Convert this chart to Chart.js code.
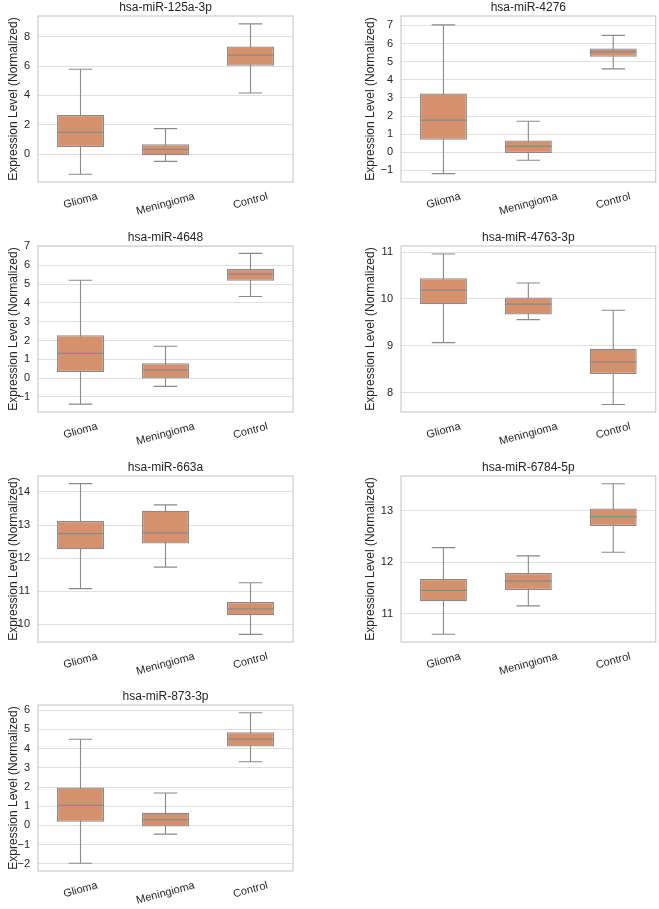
<!DOCTYPE html>
<html><head><meta charset="utf-8">
<script src="https://cdn.jsdelivr.net/npm/chart.js@4/dist/chart.umd.min.js"></script>
<style>
html,body{margin:0;padding:0;background:#fff;overflow:hidden;width:659px;height:909px;position:relative;}
canvas{position:absolute;display:block;}
</style></head><body>
<script>
const genes = ['hsa-miR-125a-3p','hsa-miR-4276','hsa-miR-4648','hsa-miR-4763-3p','hsa-miR-663a','hsa-miR-6784-5p','hsa-miR-873-3p'];
const groups = ['Glioma','Meningioma','Control'];
const whiskerLow  = [[-1.38,-0.50,4.16],[-1.18,-0.44,4.60],[-1.38,-0.44,4.34],[9.07,9.56,7.75],[11.08,11.73,9.70],[10.60,11.15,12.19],[-1.97,-0.45,3.32]];
const q1          = [[0.48,-0.09,6.02],[0.69,-0.04,5.27],[0.32,-0.02,5.18],[9.89,9.67,8.40],[12.27,12.44,10.28],[11.24,11.46,12.70],[0.19,-0.05,4.11]];
const medians     = [[1.48,0.32,6.75],[1.78,0.33,5.54],[1.32,0.44,5.53],[10.19,9.89,8.66],[12.74,12.76,10.47],[11.45,11.63,12.88],[1.04,0.31,4.49]];
const q3          = [[2.66,0.66,7.34],[3.24,0.65,5.72],[2.28,0.79,5.80],[10.44,10.03,8.94],[13.12,13.43,10.68],[11.67,11.79,13.04],[1.98,0.66,4.85]];
const whiskerHigh = [[5.79,1.73,8.88],[7.03,1.71,6.45],[5.20,1.69,6.63],[10.96,10.34,9.76],[14.25,13.61,11.26],[12.28,12.12,13.52],[4.49,1.69,5.87]];
const yMin = [-1.91,-1.64,-1.80,7.59,9.47,10.45,-2.37];
const yMax = [9.42,7.52,7.02,11.13,14.48,13.67,6.27];
const yTicks = [[0,2,4,6,8],[-1,0,1,2,3,4,5,6,7],[-1,0,1,2,3,4,5,6,7],[8,9,10,11],[10,11,12,13,14],[11,12,13],[-2,-1,0,1,2,3,4,5,6]];
const yTitle = 'Expression Level (Normalized)';

const FONT = '"Liberation Sans", Arial, sans-serif';
const TEXT = '#262626';
const BOX = 'rgb(213,145,110)';
const LINE = '#8a8a8a';

const rowTops = [0,230,460,689];
const cols = [
  {x:0, w:330, yW:38, padR:37, tp:6.3},
  {x:330, w:329, yW:71, padR:3.3, tp:33.8}
];

function boxPlugin(k){
  return {
    id:'box'+k,
    beforeDatasetsDraw(chart){
      const ctx = chart.ctx, xs = chart.scales.x, ys = chart.scales.y;
      const meta = chart.getDatasetMeta(0);
      ctx.save();
      ctx.strokeStyle = LINE; ctx.lineWidth = 1.1;
      for(let i=0;i<groups.length;i++){
        const x = xs.getPixelForValue(i);
        const bw = meta.data[i].width;
        const cap = bw/4;
        const yl = ys.getPixelForValue(whiskerLow[k][i]);
        const yh = ys.getPixelForValue(whiskerHigh[k][i]);
        ctx.beginPath();
        ctx.moveTo(x,yl); ctx.lineTo(x,yh);
        ctx.moveTo(x-cap,yl); ctx.lineTo(x+cap,yl);
        ctx.moveTo(x-cap,yh); ctx.lineTo(x+cap,yh);
        ctx.stroke();
      }
      ctx.restore();
    },
    afterDatasetsDraw(chart){
      const ctx = chart.ctx, xs = chart.scales.x, ys = chart.scales.y;
      const meta = chart.getDatasetMeta(0);
      ctx.save();
      ctx.strokeStyle = LINE; ctx.lineWidth = 1.25;
      for(let i=0;i<groups.length;i++){
        const x = xs.getPixelForValue(i);
        const bw = meta.data[i].width;
        const ym = ys.getPixelForValue(medians[k][i]);
        ctx.beginPath();
        ctx.moveTo(x-bw/2,ym); ctx.lineTo(x+bw/2,ym);
        ctx.stroke();
      }
      ctx.restore();
    },
    afterDraw(chart){
      const ctx = chart.ctx, a = chart.chartArea, xs = chart.scales.x;
      ctx.save();
      // frame
      ctx.strokeStyle = '#cfcfcf'; ctx.lineWidth = 1.25;
      ctx.strokeRect(a.left, a.top, a.right-a.left, a.bottom-a.top);
      // title
      ctx.fillStyle = TEXT;
      ctx.font = '12px ' + FONT;
      ctx.textAlign = 'center'; ctx.textBaseline = 'middle';
      ctx.fillText(genes[k], (a.left+a.right)/2, a.top-8);
      // rotated category labels
      ctx.font = '11px ' + FONT;
      const ang = 15*Math.PI/180;
      for(let i=0;i<groups.length;i++){
        const x = xs.getPixelForValue(i);
        const w = ctx.measureText(groups[i]).width;
        const H = w*Math.sin(ang) + 13*Math.cos(ang);
        const cy = a.bottom + 8 + H/2;
        ctx.save();
        ctx.translate(x, cy);
        ctx.rotate(-ang);
        ctx.fillText(groups[i], 0, 0);
        ctx.restore();
      }
      ctx.restore();
    }
  };
}

genes.forEach((g,k)=>{
  const col = cols[k%2];
  const top = rowTops[Math.floor(k/2)];
  const cv = document.createElement('canvas');
  cv.width = col.w; cv.height = 230;
  cv.style.left = col.x+'px'; cv.style.top = top+'px';
  cv.style.width = col.w+'px'; cv.style.height = '230px';
  document.body.appendChild(cv);
  const ticks = yTicks[k];
  new Chart(cv.getContext('2d'), {
    type:'bar',
    data:{
      labels: groups,
      datasets:[{
        data: groups.map((_,i)=>[q1[k][i], q3[k][i]]),
        backgroundColor: BOX,
        borderColor: LINE,
        borderWidth: 1.25,
        borderSkipped: false,
        categoryPercentage: 1,
        barPercentage: 0.553
      }]
    },
    options:{
      responsive:false,
      animation:false,
      devicePixelRatio:1,
      layout:{padding:{top:16,right:col.padR,left:0,bottom:0}},
      plugins:{legend:{display:false},tooltip:{enabled:false},title:{display:false}},
      scales:{
        x:{
          type:'category',
          ticks:{display:false},
          grid:{display:false},
          border:{display:false},
          afterFit(s){ s.height = 48; }
        },
        y:{
          min: yMin[k], max: yMax[k],
          afterBuildTicks(s){ s.ticks = ticks.map(v=>({value:v})); },
          ticks:{
            font:{family:FONT,size:11}, color:TEXT, padding:8,
            callback:(v)=> (v<0 ? '\u2212'+Math.abs(v) : String(v))
          },
          grid:{color:'#e0e0e0', lineWidth:1, drawTicks:false},
          border:{display:false},
          title:{display:true, text:yTitle, color:TEXT, font:{family:FONT,size:12}, padding:{top:col.tp,bottom:0}},
          afterFit(s){ s.width = col.yW; }
        }
      }
    },
    plugins:[boxPlugin(k)]
  });
});
</script>
</body></html>
